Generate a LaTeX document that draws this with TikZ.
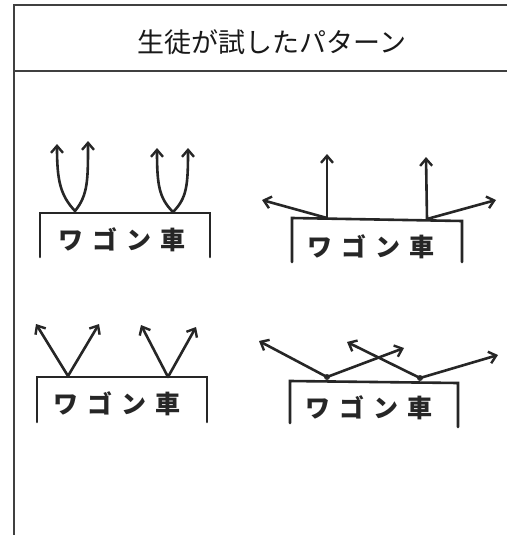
\documentclass[tikz,border=0pt]{standalone}
\usepackage{fontspec}
\newfontfamily\jp{Noto Sans CJK JP}
\usetikzlibrary{arrows.meta}
\newcommand{\wagon}{ワ\kern9ptゴ\kern9ptン\kern9pt車}
\begin{document}
\begin{tikzpicture}[x=1pt,y=-1pt,
  frame/.style={line width=1.4pt, draw=black!75},
  car/.style={line width=2.6pt, draw=black!85, line cap=round},
  vec/.style={line width=2.6pt, draw=black!85, line cap=round,
    -{Straight Barb[length=7pt,width=12pt,line width=2.4pt]}},
  lbl/.style={font=\jp\bfseries\fontsize{25}{25}\selectfont, text=black!85, inner sep=0pt},
  ttl/.style={font=\jp\fontsize{27}{27}\selectfont, text=black!90, inner sep=0pt},
  joint/.style={circle, fill=black!80, inner sep=0pt, minimum size=6pt}]
\useasboundingbox (0,0) rectangle (507,535);
\fill[white] (0,0) rectangle (507,535);
% frame
\draw[frame] (507,5) -- (14,5) -- (14,535);
\draw[frame] (14,71) -- (507,71);
\node[ttl] (title) at (272,42) {生徒が試したパターン};

% ---- panel 1
\draw[car] (40,257) -- (40,213) -- (210,213) -- (210,257);
\node[lbl] (t1) at (122,240) {\wagon};
\coordinate (a1) at (75,211);
\coordinate (a1l) at (57,144);
\coordinate (a1r) at (88,141);
\coordinate (b1) at (173,212);
\coordinate (b1l) at (157,148);
\coordinate (b1r) at (188,148);
\draw[vec] (a1) .. controls (60,195) and (57,180) .. (a1l);
\draw[vec] (a1) .. controls (88,195) and (88,180) .. (a1r);
\draw[vec] (b1) .. controls (159,198) and (157,185) .. (b1l);
\draw[vec] (b1) .. controls (187,198) and (188,185) .. (b1r);

% ---- panel 2
\draw[car] (292,262) -- (292,218) -- (462,221) -- (462,262);
\node[lbl] (t2) at (371,247) {\wagon};
\coordinate (a2) at (327,218);
\coordinate (a2u) at (327,154);
\coordinate (a2l) at (262,200);
\coordinate (b2) at (427,219);
\coordinate (b2u) at (426,157);
\coordinate (b2r) at (496,200);
\draw[vec] (a2) -- (a2u);
\draw[vec] (a2) -- (a2l);
\draw[vec] (b2) -- (b2u);
\draw[vec] (b2) -- (b2r);

% ---- panel 3
\draw[car] (37,422) -- (37,377) -- (207,377) -- (207,422);
\node[lbl] (t3) at (117,404) {\wagon};
\coordinate (a3) at (68,376);
\coordinate (a3l) at (36,324);
\coordinate (a3r) at (99,324);
\coordinate (b3) at (168,377);
\coordinate (b3l) at (141,325);
\coordinate (b3r) at (196,327);
\draw[vec] (a3) -- (a3l);
\draw[vec] (a3) -- (a3r);
\draw[vec] (b3) -- (b3l);
\draw[vec] (b3) -- (b3r);

% ---- panel 4
\draw[car] (290,423) -- (290,381) -- (458,383) -- (458,427);
\node[lbl] (t4) at (369,408) {\wagon};
\node[joint] (a4) at (327,377) {};
\node[joint] (b4) at (420,378) {};
\coordinate (a4l) at (259,341);
\coordinate (a4r) at (404,348);
\coordinate (b4l) at (347,342);
\coordinate (b4r) at (498,355);
\draw[vec] (a4.center) -- (a4l);
\draw[vec] (a4.center) -- (a4r);
\draw[vec] (b4.center) -- (b4l);
\draw[vec] (b4.center) -- (b4r);
\end{tikzpicture}
\end{document}
